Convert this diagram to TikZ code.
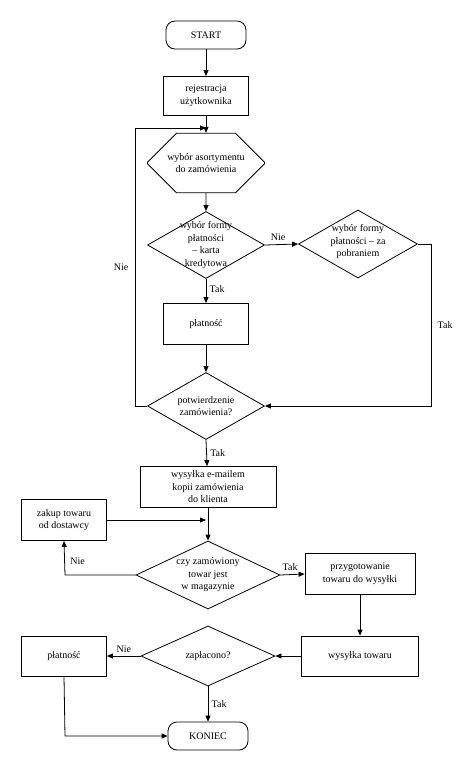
\documentclass[tikz,border=0pt]{standalone}
\usepackage{fontspec}
\setmainfont{Liberation Serif}
\usetikzlibrary{shapes.geometric,shapes.misc,arrows.meta}
\begin{document}
\begin{tikzpicture}[x=1pt,y=-1pt,
  every node/.style={font=\fontsize{10}{12.5}\selectfont},
  box/.style={draw,line width=0.8pt,minimum width=#1,align=center,inner sep=1pt},
  term/.style={draw,line width=0.8pt,rounded corners=9pt,minimum width=80pt,minimum height=28pt},
  dia/.style={draw,line width=0.8pt,diamond,aspect=1.75,inner sep=0pt,align=center},
  arr/.style={draw,line width=0.8pt,-{Triangle[length=6pt,width=5pt]}},
  lab/.style={font=\fontsize{10}{12}\selectfont}]
\useasboundingbox (0,0) rectangle (474,768);
\node[term] (start) at (206,35) {START};
\node[box=85pt,minimum height=39pt] (rej) at (206,96) {rejestracja\\użytkownika};
\node[draw,line width=0.8pt,chamfered rectangle,chamfered rectangle xsep=9pt,chamfered rectangle ysep=20pt,minimum width=117pt,minimum height=40pt,inner sep=0pt,align=center] (hex) at (206,163) {wybór asortymentu\\do zamówienia};
\node[dia,minimum width=117pt,minimum height=67pt] (d1) at (206,245) {};
\node[align=center] at (206,245) {wybór formy\\płatności\\– karta\\kredytowa};
\node[dia,minimum width=119pt,minimum height=68pt] (d2) at (358,244) {};
\node[align=center] at (358,242) {wybór formy\\płatności – za\\pobraniem};
\node[box=85pt,minimum height=41pt] (pl1) at (206,324) {płatność};
\node[dia,minimum width=117pt,minimum height=67pt] (d3) at (206,406) {};
\node[align=center] at (206,406) {potwierdzenie\\zamówienia?};
\node[box=136pt,minimum height=41pt] (mail) at (208,487) {wysyłka e-mailem\\kopii zamówienia\\do klienta};
\node[box=85pt,minimum height=41pt] (zak) at (64,520) {zakup towaru\\od dostawcy};
\node[dia,minimum width=144pt,minimum height=68pt] (d4) at (208,575) {};
\node[align=center] at (208,575) {czy zamówiony\\towar jest\\w magazynie};
\node[box=110pt,minimum height=41pt] (prz) at (360,574) {przygotowanie\\towaru do wysyłki};
\node[box=117pt,minimum height=40pt] (wys) at (360,656) {wysyłka towaru};
\node[dia,minimum width=134pt,minimum height=60pt] (d5) at (208,656) {};
\node at (208,656) {zapłacono?};
\node[box=85pt,minimum height=40pt] (pl2) at (64,656) {płatność};
\node[term,minimum width=80pt] (kon) at (208,736) {KONIEC};
\coordinate (m1) at (206,128);
\coordinate (m2) at (206,520);
\draw[arr] (start) -- (rej);
\draw[arr] (rej) -- (hex);
\draw[arr] (hex) -- (d1);
\draw[arr] (d1) -- node[lab,right,pos=0.4]{Tak} (pl1);
\draw[arr] (pl1) -- (d3);
\draw[arr] (d1.east) -- node[lab,above,pos=0.4]{Nie} (d2.west);
\draw[arr] (d2.east) -- (431,244) -- node[lab,right=3pt]{Tak} (431,406) -- (d3.east);
\draw[arr] (d3.west) -- (135,406) -- node[lab,left=3pt]{Nie} (135,128) -- (m1);
\draw[arr] (d3.south) -- node[lab,right]{Tak} (mail);
\draw[arr] (mail) -- (d4.north);
\draw[arr] (zak.east) -- (m2);
\draw[arr] (d4.west) -- (65,575) -- node[lab,right=2pt,pos=0.4]{Nie} (zak.south);
\draw[arr] (d4.east) -- node[lab,above,pos=0.4]{Tak} (prz.west);
\draw[arr] (prz) -- (wys);
\draw[arr] (wys) -- (d5.east);
\draw[arr] (d5.west) -- node[lab,above]{Nie} (pl2.east);
\draw[arr] (d5.south) -- node[lab,right]{Tak} (kon);
\draw[arr] (pl2.south) -- (65,736) -- (kon.west);
\end{tikzpicture}
\end{document}
